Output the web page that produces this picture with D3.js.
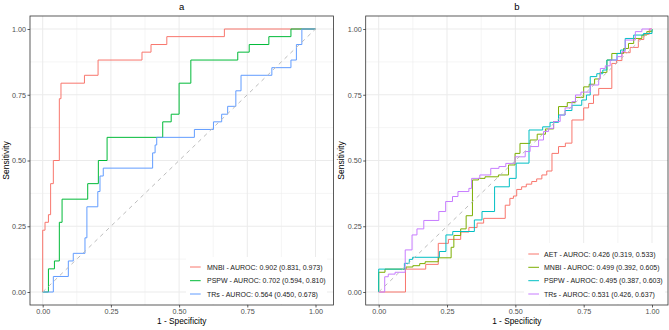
<!DOCTYPE html>
<html>
<head>
<meta charset="utf-8">
<script src="https://cdn.jsdelivr.net/npm/d3@7"></script>
<style>
  html, body { margin: 0; padding: 0; background: #ffffff; }
  svg { display: block; font-family: "Liberation Sans", Arial, Helvetica, sans-serif; }
</style>
</head>
<body>
<svg id="chart" width="669" height="330"></svg>
<script>
// ---------------- data ----------------
const panelTitles = ["a", "b"];
const xAxisTitle = "1 - Specificity";
const yAxisTitle = "Sensitivity";
const tickValues = [0, 0.25, 0.5, 0.75, 1];
const tickLabels = ["0.00", "0.25", "0.50", "0.75", "1.00"];

// Panel a
const aSeriesNames = ["MNBI - AUROC: 0.902 (0.831, 0.973)",
                      "PSPW - AUROC: 0.702 (0.594, 0.810)",
                      "TRs - AUROC: 0.564 (0.450, 0.678)"];
const aColors = ["#F8766D", "#00BA38", "#619CFF"];
const aMnbiFpr = [0, 0, 0.0085, 0.021, 0.029, 0.039, 0.061, 0.067, 0.153, 0.203, 0.364, 0.397, 0.455, 0.666, 1];
const aMnbiTpr = [0, 0.235, 0.265, 0.294, 0.412, 0.5, 0.735, 0.794, 0.824, 0.882, 0.912, 0.941, 0.971, 1, 1];
const aPspwFpr = [0, 0.021, 0.043, 0.061, 0.071, 0.165, 0.204, 0.236, 0.44, 0.471, 0.5, 0.543, 0.715, 0.757, 0.829, 0.91, 1];
const aPspwTpr = [0, 0.088, 0.118, 0.265, 0.353, 0.412, 0.5, 0.588, 0.647, 0.676, 0.794, 0.882, 0.912, 0.941, 0.971, 1, 1];
const aTrsFpr = [0, 0.039, 0.094, 0.112, 0.155, 0.162, 0.202, 0.21, 0.222, 0.403, 0.412, 0.418, 0.556, 0.626, 0.656, 0.678, 0.708, 0.727, 0.84, 0.91, 0.93, 0.95, 1];
const aTrsTpr = [0, 0.059, 0.118, 0.147, 0.206, 0.324, 0.382, 0.441, 0.471, 0.529, 0.559, 0.588, 0.618, 0.647, 0.676, 0.706, 0.765, 0.824, 0.853, 0.882, 0.941, 1, 1];

// Panel b
const bSeriesNames = ["AET - AUROC: 0.426 (0.319, 0.533)",
                      "MNBI - AUROC: 0.499 (0.392, 0.605)",
                      "PSPW - AUROC: 0.495 (0.387, 0.603)",
                      "TRs - AUROC: 0.531 (0.426, 0.637)"];
const bColors = ["#F8766D", "#7CAE00", "#00BFC4", "#C77CFF"];
const bAetFpr = [0, 0.098, 0.172, 0.218, 0.255, 0.30, 0.33, 0.36, 0.384, 0.463, 0.48, 0.493, 0.505, 0.523, 0.54, 0.56, 0.578, 0.597, 0.615, 0.634, 0.658, 0.683, 0.707, 0.75, 0.768, 0.786, 0.805, 0.853, 0.87, 0.89, 0.92, 0.95, 0.97, 0.99, 1];
const bAetTpr = [0, 0.087, 0.105, 0.185, 0.2, 0.228, 0.245, 0.262, 0.28, 0.33, 0.356, 0.365, 0.39, 0.40, 0.41, 0.42, 0.43, 0.445, 0.46, 0.527, 0.553, 0.566, 0.654, 0.70, 0.717, 0.749, 0.774, 0.869, 0.88, 0.91, 0.93, 0.96, 0.98, 1, 1];
const bMnbiFpr = [0, 0, 0.023, 0.10, 0.125, 0.15, 0.17, 0.218, 0.265, 0.275, 0.30, 0.32, 0.343, 0.365, 0.389, 0.438, 0.475, 0.499, 0.517, 0.554, 0.58, 0.61, 0.64, 0.658, 0.69, 0.72, 0.75, 0.77, 0.79, 0.81, 0.835, 0.853, 0.896, 0.914, 0.933, 0.963, 0.981, 1];
const bMnbiTpr = [0, 0.075, 0.087, 0.095, 0.10, 0.108, 0.115, 0.13, 0.17, 0.215, 0.24, 0.29, 0.426, 0.432, 0.438, 0.445, 0.483, 0.527, 0.565, 0.578, 0.60, 0.62, 0.648, 0.705, 0.72, 0.74, 0.78, 0.79, 0.81, 0.835, 0.882, 0.907, 0.926, 0.945, 0.964, 0.977, 0.99, 1];
const bPspwFpr = [0, 0, 0.094, 0.112, 0.124, 0.222, 0.246, 0.271, 0.35, 0.378, 0.424, 0.478, 0.503, 0.55, 0.60, 0.627, 0.658, 0.682, 0.707, 0.743, 0.76, 0.774, 0.798, 0.82, 0.835, 0.872, 0.885, 0.902, 0.933, 0.969, 1];
const bPspwTpr = [0, 0.087, 0.109, 0.124, 0.132, 0.154, 0.217, 0.23, 0.274, 0.306, 0.40, 0.432, 0.49, 0.616, 0.628, 0.645, 0.673, 0.69, 0.71, 0.73, 0.749, 0.819, 0.83, 0.844, 0.882, 0.907, 0.92, 0.964, 0.977, 0.983, 1];
const bTrsFpr = [0, 0.022, 0.035, 0.06, 0.097, 0.122, 0.14, 0.165, 0.22, 0.245, 0.27, 0.29, 0.33, 0.34, 0.37, 0.41, 0.44, 0.465, 0.499, 0.536, 0.554, 0.585, 0.603, 0.621, 0.64, 0.664, 0.682, 0.707, 0.72, 0.74, 0.774, 0.805, 0.811, 0.829, 0.847, 0.872, 0.89, 0.902, 0.939, 0.963, 1];
const bTrsTpr = [0, 0.058, 0.068, 0.075, 0.16, 0.217, 0.24, 0.272, 0.306, 0.344, 0.363, 0.382, 0.394, 0.432, 0.445, 0.47, 0.477, 0.489, 0.514, 0.534, 0.553, 0.578, 0.61, 0.622, 0.648, 0.673, 0.70, 0.724, 0.749, 0.76, 0.787, 0.812, 0.85, 0.86, 0.882, 0.895, 0.914, 0.958, 0.99, 1, 1];

// ---------------- layout ----------------
const panels = [
  { title: panelTitles[0], box: [30, 16, 333.5, 305], xr: [42.7, 315.5], yr: [292, 29],
    names: aSeriesNames, colors: aColors,
    series: [[aMnbiFpr, aMnbiTpr], [aPspwFpr, aPspwTpr], [aTrsFpr, aTrsTpr]],
    legend: { x: 186, keyX: 190, textX: 207, rowY: [267, 280.7, 294], w: 141, top: 257, bottom: 304 } },
  { title: panelTitles[1], box: [365.7, 16, 668, 305], xr: [378.7, 652], yr: [292, 29],
    names: bSeriesNames, colors: bColors,
    series: [[bAetFpr, bAetTpr], [bMnbiFpr, bMnbiTpr], [bPspwFpr, bPspwTpr], [bTrsFpr, bTrsTpr]],
    legend: { x: 524, keyX: 528.3, textX: 544, rowY: [254, 267.3, 280.7, 294], w: 141, top: 243, bottom: 304 } }
];

const svg = d3.select("#chart");
svg.append("rect").attr("width", 669).attr("height", 330).attr("fill", "#fff");

panels.forEach(p => {
  const [x0, y0, x1, y1] = p.box;
  const x = d3.scaleLinear().domain([0, 1]).range(p.xr);
  const y = d3.scaleLinear().domain([0, 1]).range(p.yr);
  const g = svg.append("g");

  g.append("rect").attr("x", x0).attr("y", y0).attr("width", x1 - x0).attr("height", y1 - y0).attr("fill", "#fff");

  // grid
  const minor = [0.125, 0.375, 0.625, 0.875];
  g.selectAll(null).data(minor).join("line")
    .attr("x1", d => x(d)).attr("x2", d => x(d)).attr("y1", y0).attr("y2", y1)
    .attr("stroke", "#EBEBEB").attr("stroke-width", 0.5);
  g.selectAll(null).data(minor).join("line")
    .attr("y1", d => y(d)).attr("y2", d => y(d)).attr("x1", x0).attr("x2", x1)
    .attr("stroke", "#EBEBEB").attr("stroke-width", 0.5);
  g.selectAll(null).data(tickValues).join("line")
    .attr("x1", d => x(d)).attr("x2", d => x(d)).attr("y1", y0).attr("y2", y1)
    .attr("stroke", "#EBEBEB").attr("stroke-width", 1);
  g.selectAll(null).data(tickValues).join("line")
    .attr("y1", d => y(d)).attr("y2", d => y(d)).attr("x1", x0).attr("x2", x1)
    .attr("stroke", "#EBEBEB").attr("stroke-width", 1);

  // curves
  const line = d3.line().x(d => x(d[0])).y(d => y(d[1])).curve(d3.curveStepAfter);
  p.series.forEach((s, i) => {
    g.append("path").datum(d3.zip(s[0], s[1]))
      .attr("d", line).attr("fill", "none")
      .attr("stroke", p.colors[i]).attr("stroke-width", 1);
  });

  // diagonal reference
  g.append("path").datum([[0, 0], [1, 1]])
    .attr("d", d3.line().x(d => x(d[0])).y(d => y(d[1])))
    .attr("stroke", "#BDBDBD").attr("stroke-width", 1).attr("stroke-dasharray", "4,4").attr("fill", "none");

  // legend
  const L = p.legend;
  g.append("rect").attr("x", L.x).attr("y", L.top).attr("width", L.w).attr("height", L.bottom - L.top).attr("fill", "#fff");
  p.names.forEach((n, i) => {
    g.append("line").attr("x1", L.keyX).attr("x2", L.keyX + 10.7)
      .attr("y1", L.rowY[i]).attr("y2", L.rowY[i]).attr("stroke", p.colors[i]).attr("stroke-width", 1);
    g.append("text").attr("x", L.textX).attr("y", L.rowY[i] + 2.5)
      .attr("font-size", 7).attr("fill", "#1a1a1a").text(n);
  });

  // border
  g.append("rect").attr("x", x0).attr("y", y0).attr("width", x1 - x0).attr("height", y1 - y0)
    .attr("fill", "none").attr("stroke", "#333333").attr("stroke-width", 0.8);

  // axes
  const xa = d3.axisBottom(x).tickValues(tickValues).tickFormat((d, i) => tickLabels[i]).tickSize(2.5).tickPadding(1);
  const ya = d3.axisLeft(y).tickValues(tickValues).tickFormat((d, i) => tickLabels[i]).tickSize(2.5).tickPadding(1.5);
  const gx = g.append("g").attr("transform", `translate(0,${y1})`).call(xa);
  const gy = g.append("g").attr("transform", `translate(${x0},0)`).call(ya);
  [gx, gy].forEach(a => {
    a.select(".domain").remove();
    a.selectAll(".tick line").attr("stroke", "#333333").attr("stroke-width", 0.8);
    a.selectAll(".tick text").attr("fill", "#4D4D4D").attr("font-size", 7.2)
      .attr("font-family", "Liberation Sans, Arial, sans-serif");
  });

  // titles
  const cx = (x0 + x1) / 2;
  g.append("text").attr("x", cx).attr("y", 9.5).attr("text-anchor", "middle")
    .attr("font-size", 9.5).attr("fill", "#000").text(p.title);
  g.append("text").attr("x", cx).attr("y", 324.2).attr("text-anchor", "middle")
    .attr("font-size", 8.3).attr("fill", "#000").text(xAxisTitle);
  g.append("text").attr("transform", `translate(${x0 - 21.5},${(y0 + y1) / 2}) rotate(-90)`)
    .attr("text-anchor", "middle").attr("font-size", 8.5).attr("fill", "#000").text(yAxisTitle);
});
</script>
</body>
</html>
